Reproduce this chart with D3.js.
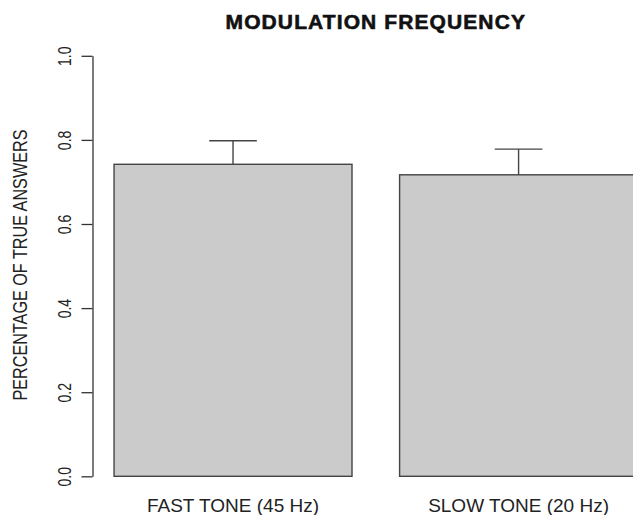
<!DOCTYPE html>
<html>
<head>
<meta charset="utf-8">
<script src="https://cdn.jsdelivr.net/npm/d3@7"></script>
<style>
  html, body { margin: 0; padding: 0; background: #fff; overflow: hidden; }
  svg { display: block; font-family: "Liberation Sans", Arial, sans-serif; }
</style>
</head>
<body>
<svg id="chart" width="633" height="515"></svg>
<script>
// Mean proportion of correct answers per tone condition, with error bar size
const categories = ["FAST TONE (45 Hz)", "SLOW TONE (20 Hz)"];
const means = [0.742, 0.717];
const errors = [0.056, 0.061];
const yTicks = [0.0, 0.2, 0.4, 0.6, 0.8, 1.0];
const titleText = "MODULATION FREQUENCY";
const yTitle = "PERCENTAGE OF TRUE ANSWERS";

const svg = d3.select("#chart");

// Barplot-style user coordinates: bar width 1, spacing 0.2
const barWidth = 1, space = 0.2;
const lefts = categories.map((_, i) => space + i * (barWidth + space));
const xMin = lefts[0], xMax = lefts[lefts.length - 1] + barWidth;
const pad = (xMax - xMin) * 0.04;

const x = d3.scaleLinear().domain([xMin - pad, xMax + pad]).range([93.1, 658.5]);
const y = d3.scaleLinear().domain([0, 1]).range([476.3, 55.8]);

const ink = "#333";
const barStroke = "#444";

// Bars
svg.append("g").selectAll("rect")
  .data(means)
  .join("rect")
  .attr("x", (d, i) => x(lefts[i]))
  .attr("y", d => y(d))
  .attr("width", (d, i) => x(lefts[i] + barWidth) - x(lefts[i]))
  .attr("height", d => y(0) - y(d))
  .attr("fill", "#cbcbcb")
  .attr("stroke", barStroke)
  .attr("stroke-width", 1.4);

// Error bars (upper half only)
const eg = svg.append("g").attr("stroke", barStroke).attr("stroke-width", 1.4);
means.forEach((m, i) => {
  const cx = x(lefts[i] + barWidth / 2);
  eg.append("line")
    .attr("x1", cx).attr("x2", cx)
    .attr("y1", y(m)).attr("y2", y(m + errors[i]));
  eg.append("line")
    .attr("x1", x(lefts[i] + barWidth / 2 - 0.1)).attr("x2", x(lefts[i] + barWidth / 2 + 0.1))
    .attr("y1", y(m + errors[i])).attr("y2", y(m + errors[i]));
});

// Y axis
const yAxis = d3.axisLeft(y)
  .tickValues(yTicks)
  .tickFormat(d3.format(".1f"))
  .tickSize(11)
  .tickSizeOuter(0);

const ya = svg.append("g")
  .attr("transform", "translate(92.5,0)")
  .call(yAxis);
ya.select(".domain").attr("stroke", ink).attr("stroke-width", 1.3);
ya.selectAll(".tick line").attr("stroke", ink).attr("stroke-width", 1.3);
ya.selectAll(".tick text")
  .attr("x", null)
  .attr("dy", null)
  .attr("fill", "#222")
  .attr("font-size", 14)
  .attr("font-family", "Liberation Sans, Arial, sans-serif")
  .attr("text-anchor", "middle")
  .attr("transform", "translate(-21.8,0) rotate(-90) scale(1,1.36)");

// Category labels
svg.append("g").selectAll("text")
  .data(categories)
  .join("text")
  .attr("x", (d, i) => x(lefts[i] + barWidth / 2))
  .attr("y", 512)
  .attr("text-anchor", "middle")
  .attr("font-size", 19)
  .attr("fill", "#222")
  .text(d => d);

// Title
svg.append("text")
  .attr("x", (x.range()[0] + x.range()[1]) / 2)
  .attr("y", 29)
  .attr("text-anchor", "middle")
  .attr("font-size", 21)
  .attr("font-weight", "bold")
  .attr("letter-spacing", "1.1px")
  .attr("fill", "#111")
  .attr("stroke", "#111")
  .attr("stroke-width", 0.6)
  .text(titleText);

// Y axis title
svg.append("text")
  .attr("transform", `translate(27,${(y(0) + y(1)) / 2 - 1}) rotate(-90) scale(1,1.2)`)
  .attr("text-anchor", "middle")
  .attr("font-size", 16.2)
  .attr("fill", "#222")
  .text(yTitle);
</script>
</body>
</html>
